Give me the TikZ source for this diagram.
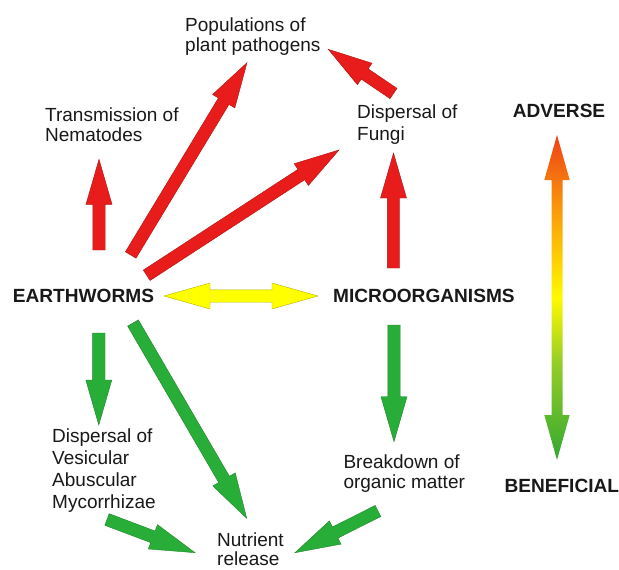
\documentclass[tikz,border=0pt]{standalone}
\usepackage{fontspec}
\setmainfont{Liberation Sans}
\usetikzlibrary{calc}
\definecolor{arrred}{RGB}{232,28,26}
\definecolor{arrgreen}{RGB}{40,174,56}
\definecolor{arryellow}{RGB}{255,255,0}
\definecolor{txt}{RGB}{25,25,25}
\definecolor{sgreen}{RGB}{50,168,50}
\definecolor{smidgreen}{RGB}{150,205,40}
\definecolor{syellow}{RGB}{255,250,0}
\definecolor{sorange}{RGB}{250,165,10}
\definecolor{sred}{RGB}{238,65,22}
\pgfdeclareverticalshading{advben}{100bp}{color(0bp)=(sgreen); color(25bp)=(sgreen); color(40bp)=(smidgreen); color(50bp)=(syellow); color(62bp)=(sorange); color(75bp)=(sred); color(100bp)=(sred)}
\def\bashaft{6.2pt}
\def\bahead{13pt}
\newcommand\blockarrow[4]{% style, from, to, head length
  \coordinate (bah) at ($(#3)!#4!(#2)$);
  \path[#1] ($(#2)!\bashaft!90:(#3)$) -- ($(bah)!\bashaft!-90:(#2)$) -- ($(bah)!\bahead!-90:(#2)$) -- (#3) -- ($(bah)!\bahead!90:(#2)$) -- ($(bah)!\bashaft!90:(#2)$) -- ($(#2)!\bashaft!-90:(#3)$) -- cycle;}
\newcommand\doublearrow[4]{% style, from, to, head length
  \coordinate (dah1) at ($(#2)!#4!(#3)$);
  \coordinate (dah2) at ($(#3)!#4!(#2)$);
  \path[#1] (#2) -- ($(dah1)!\bahead!90:(#3)$) -- ($(dah1)!\bashaft!90:(#3)$) -- ($(dah2)!\bashaft!-90:(#2)$) -- ($(dah2)!\bahead!-90:(#2)$) -- (#3) -- ($(dah2)!\bahead!90:(#2)$) -- ($(dah2)!\bashaft!90:(#2)$) -- ($(dah1)!\bashaft!-90:(#3)$) -- ($(dah1)!\bahead!-90:(#3)$) -- cycle;}
\begin{document}
\begin{tikzpicture}[x=1pt,y=-1pt,
  lbl/.style={font=\fontsize{19}{#1}\selectfont, text=txt, inner sep=0pt, align=left, anchor=base west},
  lbl/.default=21,
  blbl/.style={font=\fontsize{19.1}{21}\selectfont\bfseries, text=txt, inner sep=0pt, anchor=base west},
  redarrow/.style={fill=arrred, draw=arrred!75!black, line width=0.4pt},
  greenarrow/.style={fill=arrgreen, draw=arrgreen!75!black, line width=0.4pt},
  yellowarrow/.style={fill=arryellow, draw=arryellow!70!black, line width=0.4pt},
  scalearrow/.style={shading=advben}]
\useasboundingbox[fill=white] (0,0) rectangle (619,570);
% labels (anchored at the baseline of the last line)
\node[lbl=20] (pop) at (185,51.7) {Populations of\\plant pathogens};
\node[lbl=20] (nem) at (45,141.7) {Transmission of\\Nematodes};
\node[lbl=21.7] (fun) at (357,140) {Dispersal of\\Fungi};
\node[lbl=21.7] (vam) at (52,508) {Dispersal of\\Vesicular\\Abuscular\\Mycorrhizae};
\node[lbl=20] (brk) at (343.3,488.3) {Breakdown of\\organic matter};
\node[lbl=19.5] (nut) at (217,565.5) {Nutrient\\release};
\node[blbl] (ew) at (12.7,302.7) {EARTHWORMS};
\node[blbl] (mic) at (333,302) {MICROORGANISMS};
\node[blbl] (adv) at (512.7,117) {ADVERSE};
\node[blbl] (ben) at (504.3,492.7) {BENEFICIAL};
% arrow end points
\coordinate (r1a) at (99,250);   \coordinate (r1b) at (99,159.3);
\coordinate (r2a) at (130.7,255); \coordinate (r2b) at (247,62.7);
\coordinate (r3a) at (146.7,275.3); \coordinate (r3b) at (339,150);
\coordinate (r4a) at (393.5,93.5); \coordinate (r4b) at (328.3,49.3);
\coordinate (r5a) at (393.5,268); \coordinate (r5b) at (393.5,153);
\coordinate (ya) at (164,296); \coordinate (yb) at (318,296);
\coordinate (g1a) at (98.8,333); \coordinate (g1b) at (98.8,425);
\coordinate (g2a) at (133,323); \coordinate (g2b) at (246.7,518.3);
\coordinate (g3a) at (394,325); \coordinate (g3b) at (394,441.7);
\coordinate (g4a) at (107,519.5); \coordinate (g4b) at (195,552.7);
\coordinate (g5a) at (378,511); \coordinate (g5b) at (295,552.7);
\coordinate (sa) at (557,135); \coordinate (sb) at (557,460);
% red arrows
\blockarrow{redarrow}{r1a}{r1b}{45pt}
\blockarrow{redarrow}{r2a}{r2b}{45pt}
\blockarrow{redarrow}{r3a}{r3b}{45pt}
\blockarrow{redarrow}{r4a}{r4b}{44pt}
\blockarrow{redarrow}{r5a}{r5b}{45pt}
% yellow double arrow
\doublearrow{yellowarrow}{ya}{yb}{46pt}
% green arrows
\blockarrow{greenarrow}{g1a}{g1b}{45pt}
\blockarrow{greenarrow}{g2a}{g2b}{45pt}
\blockarrow{greenarrow}{g3a}{g3b}{45pt}
\blockarrow{greenarrow}{g4a}{g4b}{45pt}
\blockarrow{greenarrow}{g5a}{g5b}{45pt}
% scale arrow
\def\bashaft{5.5pt}\def\bahead{12.7pt}
\doublearrow{scalearrow}{sa}{sb}{45pt}
\end{tikzpicture}
\end{document}
